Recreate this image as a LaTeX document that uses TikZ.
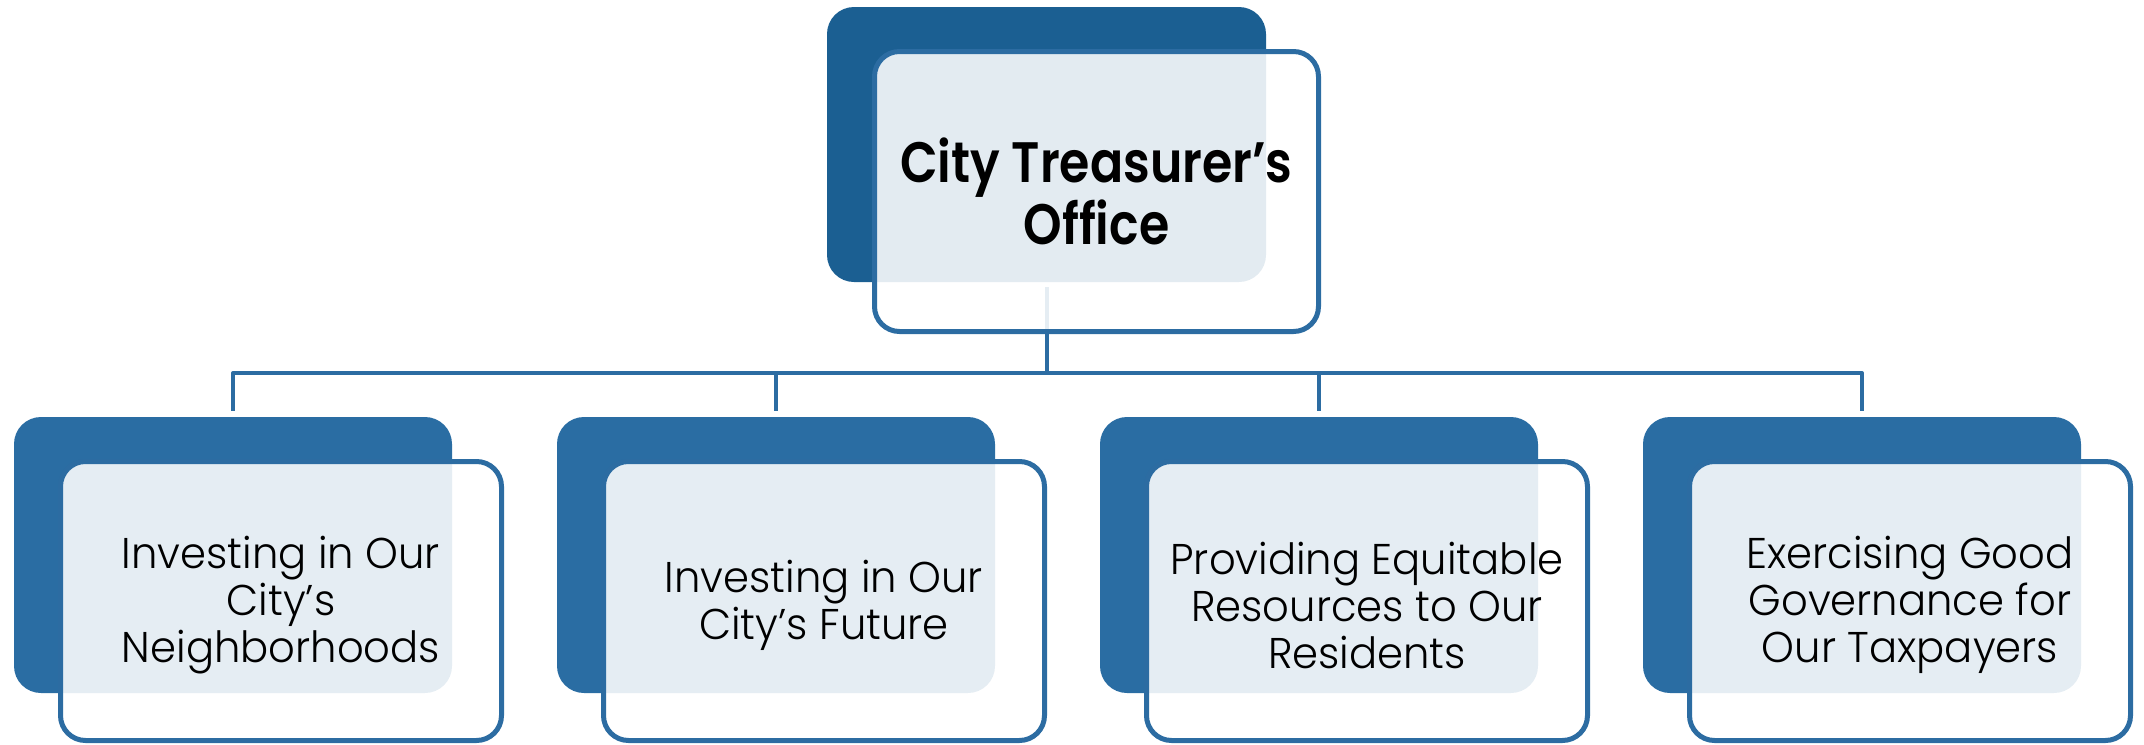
\documentclass[tikz,border=0pt]{standalone}
\usepackage{fontspec}
\setmainfont{Poppins}
\newfontfamily\titlefont[FakeStretch=0.86]{Poppins SemiBold}
\newfontfamily\childfont[FakeStretch=0.97]{Poppins Light}
\begin{document}
\begin{tikzpicture}[x=0.5pt,y=-0.5pt]
\definecolor{topdark}{HTML}{1B5F92}
\definecolor{childdark}{HTML}{2A6DA3}
\definecolor{edge}{HTML}{2C6CA2}
\tikzset{
  backbox/.style={rectangle, rounded corners=13.5pt, inner sep=0pt, draw=none},
  frontbox/.style={rectangle, rounded corners=12.5pt, inner sep=0pt, draw=edge, line width=2.5pt, fill=white, fill opacity=0.88, text opacity=1},
  childtext/.style={align=center, font=\childfont\fontsize{21.5}{23.5}\selectfont, text=black},
  toptext/.style={align=center, font=\titlefont\fontsize{28.5}{29}\selectfont, text=black},
  conn/.style={draw=edge, line width=2pt, line join=round}
}
\useasboundingbox (0,0) rectangle (2144,745);
% back boxes
\node[backbox, fill=topdark, minimum width=219.5pt, minimum height=137.5pt] (topdark) at (1046.5,144.5) {};
\node[backbox, fill=childdark, minimum width=219pt, minimum height=138pt] (c1dark) at (233,555) {};
\node[backbox, fill=childdark, minimum width=219pt, minimum height=138pt] (c2dark) at (776,555) {};
\node[backbox, fill=childdark, minimum width=219pt, minimum height=138pt] (c3dark) at (1319,555) {};
\node[backbox, fill=childdark, minimum width=219pt, minimum height=138pt] (c4dark) at (1862,555) {};
% connectors
\coordinate (bus) at (1046.5,373);
\draw[conn] ([yshift=-2.5pt]topdark.south) -- (bus);
\draw[conn] ([yshift=3pt]c1dark.north) |- (bus) -| ([yshift=3pt]c4dark.north);
\draw[conn] ([yshift=3pt]c2dark.north) -- (c2dark.north |- bus);
\draw[conn] ([yshift=3pt]c3dark.north) -- (c3dark.north |- bus);
% front boxes
\node[frontbox, minimum width=222pt, minimum height=140pt] (topfront) at (1096.5,191.5) {};
\node[frontbox, minimum width=220.5pt, minimum height=139.5pt] (c1front) at (281,601) {};
\node[frontbox, minimum width=220.5pt, minimum height=139.5pt] (c2front) at (824,601) {};
\node[frontbox, minimum width=220.5pt, minimum height=139.5pt] (c3front) at (1367,601) {};
\node[frontbox, minimum width=220.5pt, minimum height=139.5pt] (c4front) at (1910,601) {};
% texts
\node[toptext] (toplabel) at (topfront.center) {City Treasurer’s\\Office};
\node[childtext] (c1label) at ([yshift=-2pt]c1front.center) {Investing in Our\\City’s\\Neighborhoods};
\node[childtext] (c2label) at ([yshift=-2pt]c2front.center) {Investing in Our\\City’s Future};
\node[childtext] (c3label) at ([yshift=-2pt]c3front.center) {Providing Equitable\\Resources to Our\\Residents};
\node[childtext] (c4label) at ([yshift=-2pt]c4front.center) {Exercising Good\\Governance for\\Our Taxpayers};
\end{tikzpicture}
\end{document}
